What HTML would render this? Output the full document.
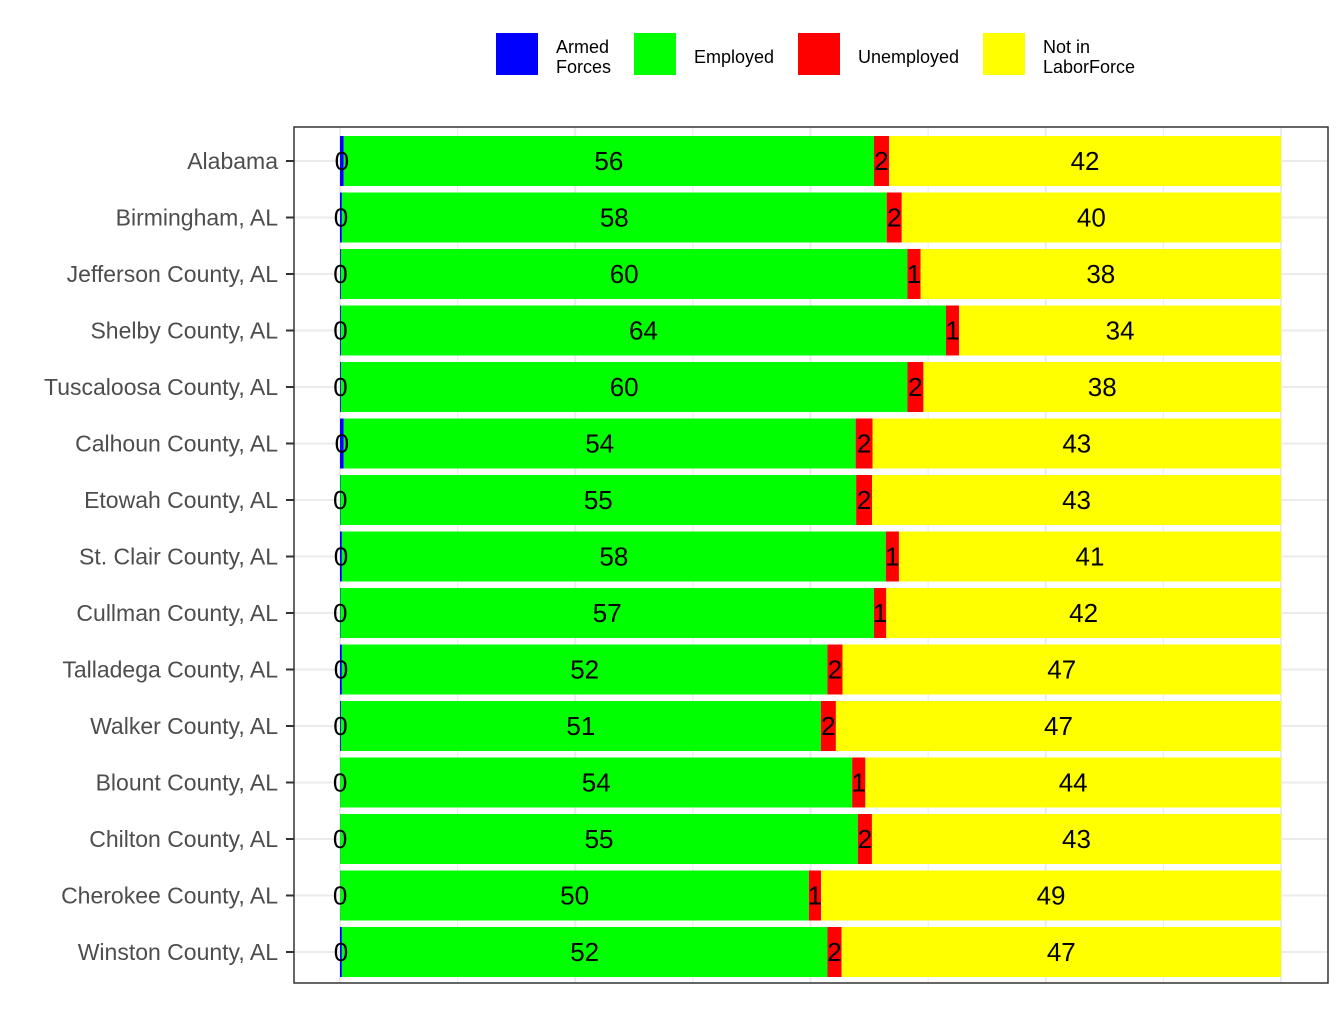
<!DOCTYPE html>
<html><head><meta charset="utf-8"><style>
body{margin:0;background:#fff;font-family:"Liberation Sans",Arial,sans-serif;}
svg text{font-family:"Liberation Sans",Arial,sans-serif;}
</style></head><body>
<svg id="chart" width="1344" height="1008" xmlns="http://www.w3.org/2000/svg">
<g id="legend">
<rect x="496" y="33" width="42" height="42" fill="#0000ff"/>
<text x="556" y="53" font-size="18" fill="#000">Armed</text>
<text x="556" y="73" font-size="18" fill="#000">Forces</text>
<rect x="634" y="33" width="42" height="42" fill="#00ff00"/>
<text x="694" y="63" font-size="18" fill="#000">Employed</text>
<rect x="798" y="33" width="42" height="42" fill="#ff0000"/>
<text x="858" y="63" font-size="18" fill="#000">Unemployed</text>
<rect x="983" y="33" width="42" height="42" fill="#ffff00"/>
<text x="1043" y="53" font-size="18" fill="#000">Not in</text>
<text x="1043" y="73" font-size="18" fill="#000">LaborForce</text>
</g>
<g id="grid"></g>
<g id="bars"></g>
<g id="labels"></g>
<g id="axis"></g>
<rect x="294" y="127" width="1034" height="856" fill="none" stroke="#333" stroke-width="1.5"/>
</svg>
<script>
const categories=["Alabama","Birmingham, AL","Jefferson County, AL","Shelby County, AL","Tuscaloosa County, AL","Calhoun County, AL","Etowah County, AL","St. Clair County, AL","Cullman County, AL","Talladega County, AL","Walker County, AL","Blount County, AL","Chilton County, AL","Cherokee County, AL","Winston County, AL"];
const armed=[0.4,0.2,0.1,0.1,0.1,0.4,0.05,0.2,0.05,0.2,0.1,0.03,0.03,0.03,0.2];
const employed=[56.35,57.9,60.2,64.3,60.2,54.4,54.8,57.8,56.7,51.6,51.0,54.4,55.0,49.8,51.6];
const unemployed=[1.6,1.6,1.4,1.4,1.7,1.8,1.7,1.4,1.3,1.6,1.6,1.4,1.5,1.3,1.5];
const notInLF=[41.65,40.3,38.3,34.2,38.0,43.4,43.45,40.6,41.95,46.6,47.3,44.17,43.47,48.87,46.7];
const series=[["armed-forces",armed,"#0000ff"],["employed",employed,"#00ff00"],["unemployed",unemployed,"#ff0000"],["not-in-laborforce",notInLF,"#ffff00"]];
const NS="http://www.w3.org/2000/svg";
const x0=340,x1=1281;
const xs=v=>x0+(x1-x0)*v/100;
const yc=i=>161+i*56.5;
const bh=50;
function mk(t,a){const e=document.createElementNS(NS,t);for(const k in a)e.setAttribute(k,a[k]);return e;}
const grid=document.getElementById('grid');
for(let k=0;k<=8;k++){
  const l=mk('line',{x1:xs(k*12.5),x2:xs(k*12.5),y1:127,y2:983,stroke:'#ebebeb','stroke-width':k%2?1:2});
  
  
  grid.appendChild(l);
}
categories.forEach((c,i)=>{
  const l=mk('line',{x1:294,x2:1328,y1:yc(i),y2:yc(i),stroke:'#ebebeb','stroke-width':2});
  
  
  grid.appendChild(l);
});
const bars=document.getElementById('bars'),labels=document.getElementById('labels'),axis=document.getElementById('axis');
categories.forEach((c,i)=>{
  let cum=0;
  series.forEach(([nm,arr,col])=>{
    const v=arr[i];
    const r=mk('rect',{x:xs(cum),y:yc(i)-bh/2,width:Math.max(xs(cum+v)-xs(cum),0),height:bh,fill:col});
    
    
    bars.appendChild(r);
    const t=mk('text',{x:(xs(cum)+xs(cum+v))/2,y:yc(i)+9,'font-size':26,'text-anchor':'middle',fill:'#000'});
    t.textContent=Math.round(v);
    
    
    labels.appendChild(t);
    cum+=v;
  });
  const tk=mk('line',{x1:286,x2:294,y1:yc(i),y2:yc(i),stroke:'#333','stroke-width':2});
  
  
  axis.appendChild(tk);
  const lb=mk('text',{x:278,y:yc(i)+8,'font-size':23,'text-anchor':'end',fill:'#4d4d4d'});
  lb.textContent=c;
  
  
  axis.appendChild(lb);
});
</script>
</body></html>
